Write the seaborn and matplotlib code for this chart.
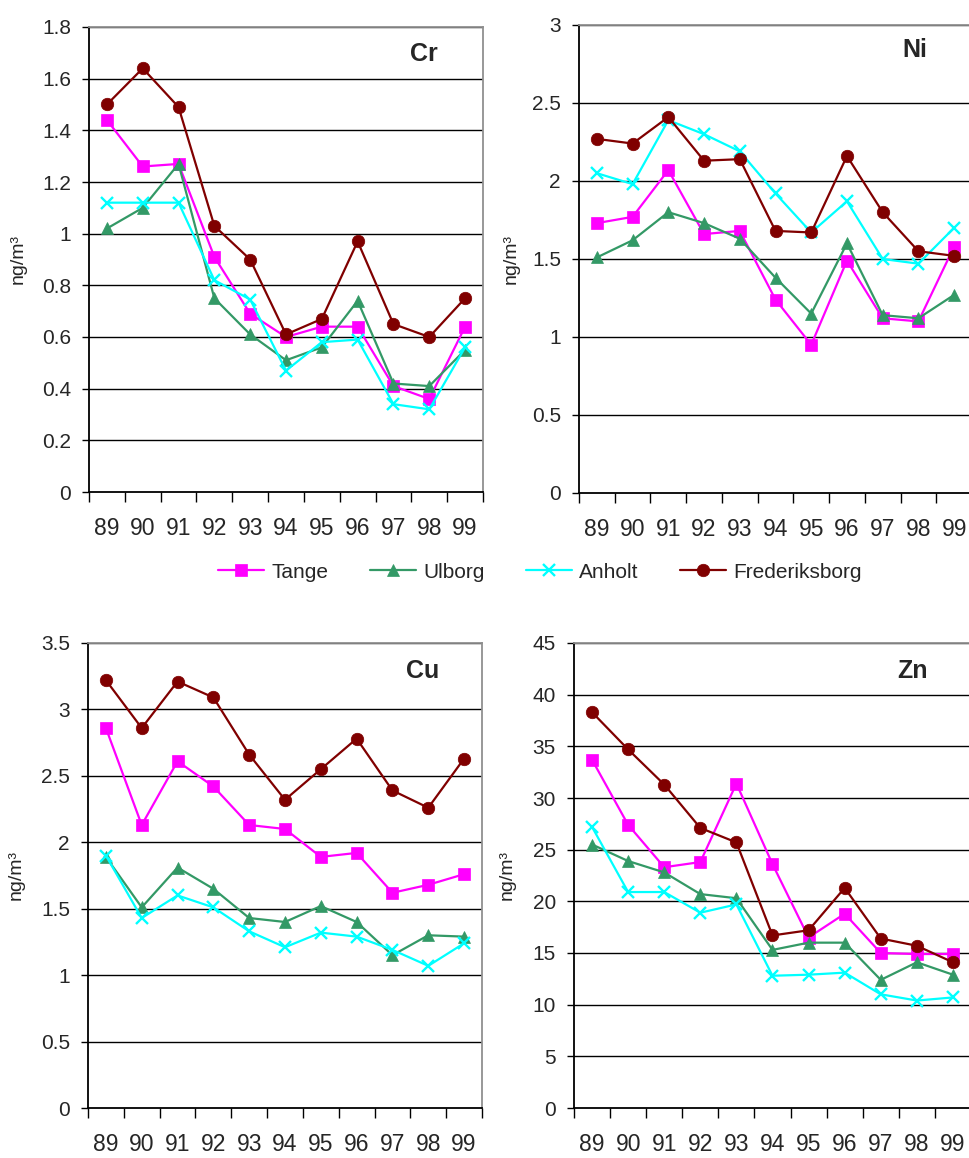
import numpy as np
import pandas as pd
import seaborn as sns
import matplotlib.pyplot as plt
from matplotlib.ticker import FixedLocator

sns.set_theme(style="white")
plt.rcParams['font.family'] = ['Liberation Sans', 'DejaVu Sans']

years = ['89', '90', '91', '92', '93', '94', '95', '96', '97', '98', '99']
sites = ['Tange', 'Ulborg', 'Anholt', 'Frederiksborg']

cr_tange = [1.44, 1.26, 1.27, 0.91, 0.69, 0.60, 0.64, 0.64, 0.41, 0.36, 0.64]
cr_ulborg = [1.02, 1.10, 1.27, 0.75, 0.61, 0.51, 0.56, 0.74, 0.42, 0.41, 0.55]
cr_anholt = [1.12, 1.12, 1.12, 0.82, 0.745, 0.47, 0.58, 0.59, 0.34, 0.32, 0.56]
cr_fred = [1.50, 1.64, 1.49, 1.03, 0.90, 0.61, 0.67, 0.97, 0.65, 0.60, 0.75]

ni_tange = [1.73, 1.77, 2.07, 1.66, 1.68, 1.24, 0.95, 1.49, 1.12, 1.10, 1.58]
ni_ulborg = [1.51, 1.62, 1.80, 1.73, 1.63, 1.38, 1.15, 1.60, 1.14, 1.12, 1.27]
ni_anholt = [2.05, 1.98, 2.39, 2.30, 2.19, 1.92, 1.67, 1.87, 1.50, 1.47, 1.70]
ni_fred = [2.27, 2.24, 2.41, 2.13, 2.14, 1.68, 1.67, 2.16, 1.80, 1.55, 1.52]

cu_tange = [2.86, 2.13, 2.61, 2.42, 2.13, 2.10, 1.89, 1.92, 1.62, 1.68, 1.76]
cu_ulborg = [1.89, 1.51, 1.81, 1.65, 1.43, 1.40, 1.52, 1.40, 1.15, 1.30, 1.29]
cu_anholt = [1.90, 1.43, 1.60, 1.51, 1.33, 1.21, 1.32, 1.29, 1.19, 1.07, 1.24]
cu_fred = [3.22, 2.86, 3.21, 3.09, 2.66, 2.32, 2.55, 2.78, 2.39, 2.26, 2.63]

zn_tange = [33.7, 27.4, 23.3, 23.8, 31.4, 23.6, 16.5, 18.8, 15.0, 14.9, 14.9]
zn_ulborg = [25.5, 23.9, 22.8, 20.7, 20.3, 15.3, 16.0, 16.0, 12.4, 14.1, 12.9]
zn_anholt = [27.2, 20.9, 20.9, 18.9, 19.7, 12.8, 12.9, 13.1, 11.0, 10.4, 10.7]
zn_fred = [38.3, 34.7, 31.3, 27.1, 25.7, 16.7, 17.2, 21.3, 16.4, 15.7, 14.1]

metals = {
    'Cr': [cr_tange, cr_ulborg, cr_anholt, cr_fred],
    'Ni': [ni_tange, ni_ulborg, ni_anholt, ni_fred],
    'Cu': [cu_tange, cu_ulborg, cu_anholt, cu_fred],
    'Zn': [zn_tange, zn_ulborg, zn_anholt, zn_fred],
}
yticks = {
    'Cr': [0, 0.2, 0.4, 0.6, 0.8, 1, 1.2, 1.4, 1.6, 1.8],
    'Ni': [0, 0.5, 1, 1.5, 2, 2.5, 3],
    'Cu': [0, 0.5, 1, 1.5, 2, 2.5, 3, 3.5],
    'Zn': [0, 5, 10, 15, 20, 25, 30, 35, 40, 45],
}

colors = {'Tange': '#FF00FF', 'Ulborg': '#339966', 'Anholt': '#00FFFF', 'Frederiksborg': '#800000'}
markers = {'Tange': 's', 'Ulborg': '^', 'Anholt': 'x', 'Frederiksborg': 'o'}

W, H = 969, 1158
fig = plt.figure(figsize=(W / 100, H / 100), dpi=100)

# axes boxes in pixels: left, top, right, bottom
boxes = {
    'Cr': (89, 27, 483, 492),
    'Ni': (579, 25, 972, 493),
    'Cu': (88, 643, 482, 1108),
    'Zn': (574, 643, 971, 1108),
}
title_pos = {'Cr': (424, 54), 'Ni': (915, 50), 'Cu': (423, 671), 'Zn': (913, 671)}
ylabel_x = {'Cr': 27, 'Ni': 520, 'Cu': 25, 'Zn': 516}

x = np.arange(len(years))
for metal, series in metals.items():
    l, t, r, b = boxes[metal]
    ax = fig.add_axes([l / W, 1 - b / H, (r - l) / W, (b - t) / H])
    for site, vals in zip(sites, series):
        df = pd.DataFrame({'x': x, 'y': vals})
        mk = markers[site]
        sns.lineplot(data=df, x='x', y='y', ax=ax, color=colors[site], lw=1.6,
                     marker=mk, markersize=9,
                     markeredgecolor=colors[site],
                     markeredgewidth=1.7 if mk == 'x' else 0.5,
                     label=site, legend=False)
    ticks = yticks[metal]
    ax.set_ylim(0, ticks[-1])
    ax.set_xlim(-0.5, 10.5)
    ax.set_yticks(ticks)
    ax.set_yticklabels(['%g' % v for v in ticks])
    ax.xaxis.set_major_locator(FixedLocator(np.arange(-0.5, 11, 1)))
    ax.xaxis.set_minor_locator(FixedLocator(x))
    ax.set_xticklabels([])
    ax.set_xticklabels(years, minor=True)
    ax.tick_params(axis='x', which='major', direction='out', length=7, width=1, color='black', bottom=True)
    ax.tick_params(axis='x', which='minor', length=0, pad=18, labelsize=16.5)
    ax.tick_params(axis='y', direction='out', length=5, width=1, color='black', left=True, labelsize=15, pad=8)
    for v in ticks[1:]:
        ax.axhline(v, color='black', lw=1, zorder=0.5)
    ax.spines['left'].set_color('black')
    ax.spines['bottom'].set_color('black')
    ax.spines['top'].set_color('#909090')
    ax.spines['right'].set_color('#909090')
    for s in ax.spines.values():
        s.set_linewidth(1.3)
    ax.set_xlabel('')
    ax.set_ylabel('ng/m³', fontsize=14)
    ax.yaxis.set_label_coords((ylabel_x[metal] - l) / (r - l), 0.5)
    tx, ty = title_pos[metal]
    fig.text(tx / W, 1 - ty / H, metal, fontsize=18, fontweight='bold', ha='center', va='center')
    if metal == 'Cr':
        handles, labels = ax.get_legend_handles_labels()

fig.legend(handles, labels, loc='center', bbox_to_anchor=(540 / W, 1 - 572 / H), ncol=4,
           frameon=False, fontsize=15, handlelength=2.2, columnspacing=2.0, handletextpad=0.35)

fig.savefig('out.png', dpi=100)
